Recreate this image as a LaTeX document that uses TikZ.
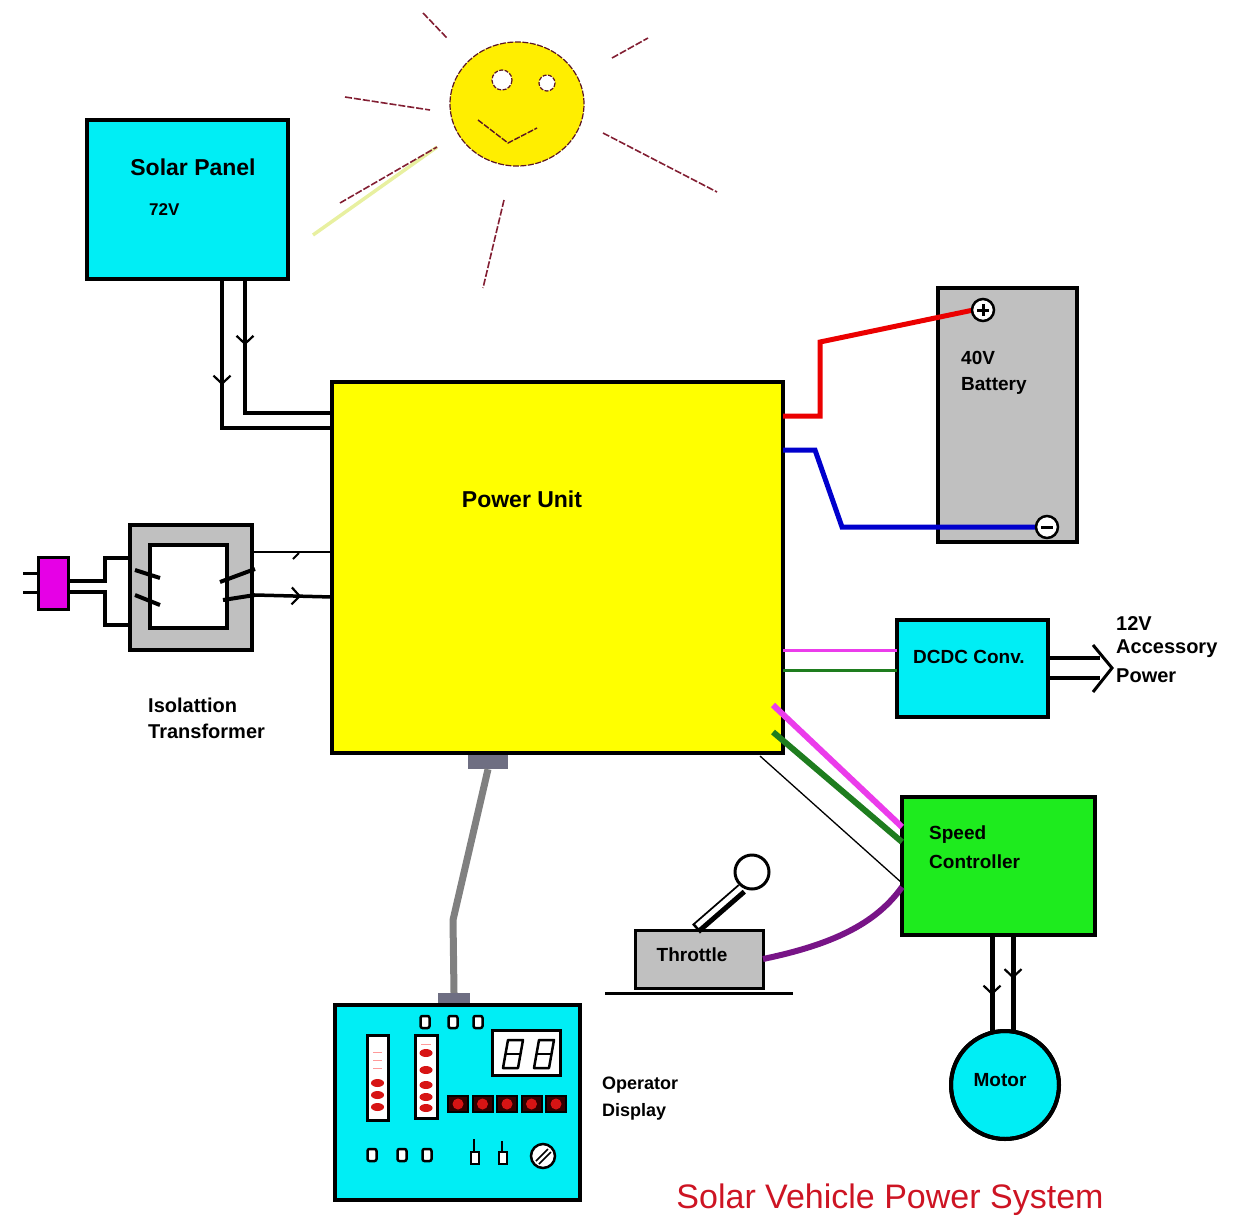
\documentclass[tikz,border=0pt]{standalone}
\usepackage{fontspec}
\setmainfont{Liberation Sans}
\usetikzlibrary{arrows.meta,decorations.markings,calc,shapes.geometric}
\definecolor{panelcyan}{RGB}{0,238,245}
\definecolor{unityellow}{RGB}{255,255,0}
\definecolor{sunyellow}{RGB}{255,238,0}
\definecolor{boxgray}{RGB}{192,192,192}
\definecolor{ctrlgreen}{RGB}{30,235,30}
\definecolor{plugmag}{RGB}{230,0,230}
\definecolor{wiremag}{RGB}{235,60,235}
\definecolor{wiregreen}{RGB}{30,125,30}
\definecolor{wirered}{RGB}{235,0,0}
\definecolor{wireblue}{RGB}{0,0,205}
\definecolor{wirepurple}{RGB}{120,20,135}
\definecolor{cablegray}{RGB}{128,128,128}
\definecolor{congray}{RGB}{110,110,130}
\definecolor{raycol}{RGB}{130,30,50}
\definecolor{paleray}{RGB}{232,240,160}
\definecolor{titlered}{RGB}{205,20,35}
\definecolor{ledred}{RGB}{215,20,20}
\begin{document}
\begin{tikzpicture}[x=1pt,y=-1pt,
  box/.style={draw=black, line width=4pt, inner sep=0pt, outer sep=0pt},
  wire/.style={line width=3.5pt, line join=miter},
  lbl/.style={font=\bfseries\fontsize{19}{21}\selectfont, inner sep=0pt},
  ray/.style={draw=raycol, line width=1.6pt, dash pattern=on 7pt off 2pt},
  midarrow/.style={postaction={decorate}, decoration={markings,
      mark=at position #1 with {\arrow[line width=2.2pt]{Straight Barb[length=8pt,width=17pt]}}}},
  button/.style={draw=black, line width=2.5pt, fill=white, rounded corners=2pt},
]
\useasboundingbox (0,0) rectangle (1239,1226);

% ---------- sun ----------
\draw[draw=paleray, line width=3.5pt] (313,235) -- (437,147);
\draw[ray] (423,13) -- (447,38);
\draw[ray] (612,58) -- (648,38);
\draw[ray] (345,97) -- (430,110);
\draw[ray] (340,203) -- (437,147);
\draw[ray] (603,133) -- (717,192);
\draw[ray] (504,200) -- (483,288);
\node[ellipse, draw=raycol!70!black, line width=1.2pt, dash pattern=on 6pt off 1.5pt,
      fill=sunyellow, minimum width=134pt, minimum height=124pt, inner sep=0pt] (sun) at (517,104) {};
\draw[draw=raycol!70!black, line width=1.2pt, dash pattern=on 4pt off 1.5pt, fill=white] (502,80) circle (10);
\draw[draw=raycol!70!black, line width=1.2pt, dash pattern=on 4pt off 1.5pt, fill=white] (547,83) circle (8);
\draw[draw=raycol!70!black, line width=1.4pt, dash pattern=on 6pt off 1.5pt] (478,120) -- (508,143) -- (537,128);

% ---------- blocks ----------
\node[box, fill=panelcyan, minimum width=201pt, minimum height=159pt] (solar) at (187.5,199.5) {};
\node[box, fill=unityellow, minimum width=451pt, minimum height=371pt] (pu) at (557.5,567.5) {};
\node[box, fill=boxgray, minimum width=139pt, minimum height=254pt] (batt) at (1007.5,415) {};
\node[box, fill=panelcyan, minimum width=151pt, minimum height=97pt] (dcdc) at (972.5,668.5) {};
\node[box, fill=ctrlgreen, minimum width=193pt, minimum height=138pt] (sc) at (998.5,866) {};
\node[box, line width=3pt, fill=boxgray, minimum width=128pt, minimum height=58pt] (thr) at (699,959) {};
\node[box, circle, fill=panelcyan, minimum size=108pt] (motor) at (1005,1085) {};
\node[box, fill=boxgray, minimum width=122pt, minimum height=125pt] (xfmr) at (191,587.5) {};
\node[box, fill=white, minimum width=77pt, minimum height=83pt] (core) at (188.5,586.5) {};
\node[box, line width=3pt, fill=plugmag, minimum width=30pt, minimum height=52pt] (plug) at (53,583) {};
\node[box, fill=panelcyan, minimum width=245pt, minimum height=195pt] (opd) at (457.5,1102.5) {};
\node[draw=none, fill=congray, minimum width=40pt, minimum height=14pt, inner sep=0pt] (pucon) at (488,762) {};
\node[draw=none, fill=congray, minimum width=32pt, minimum height=10pt, inner sep=0pt] (opcon) at (454,998) {};

% ---------- labels ----------
\node[lbl, font=\bfseries\fontsize{23}{25}\selectfont] at (193,167) {Solar Panel};
\node[lbl, anchor=west, font=\bfseries\fontsize{17}{19}\selectfont] at (149,210) {72V};
\node[lbl, font=\bfseries\fontsize{23}{25}\selectfont] at (522,499) {Power Unit};
\node[lbl, anchor=west] at (961,358) {40V};
\node[lbl, anchor=west] at (961,386) {Battery};
\node[lbl] at (969,657) {DCDC Conv.};
\node[lbl, anchor=west, font=\bfseries\fontsize{20}{22}\selectfont] at (1116,624) {12V};
\node[lbl, anchor=west, font=\bfseries\fontsize{20}{22}\selectfont] at (1116,649) {Accessory};
\node[lbl, anchor=west, font=\bfseries\fontsize{20}{22}\selectfont] at (1116,676) {Power};
\node[lbl, anchor=west] at (929,835) {Speed};
\node[lbl, anchor=west] at (929,862) {Controller};
\node[lbl] at (692,955) {Throttle};
\node[lbl] at (1000,1080) {Motor};
\node[lbl, anchor=west, font=\bfseries\fontsize{20}{22}\selectfont] at (148,705) {Isolattion};
\node[lbl, anchor=west, font=\bfseries\fontsize{20}{22}\selectfont] at (148,731) {Transformer};
\node[lbl, anchor=west, font=\bfseries\fontsize{18}{20}\selectfont] at (602,1085) {Operator};
\node[lbl, anchor=west, font=\bfseries\fontsize{18}{20}\selectfont] at (602,1112) {Display};
\node[inner sep=0pt, text=titlered, font=\fontsize{34}{37}\selectfont] (title) at (890,1200) {Solar Vehicle Power System};

% ---------- solar panel feed ----------
\draw[wire, midarrow=0.3] (solar.south -| 245,0) |- (pu.west |- 0,413);
\draw[wire, midarrow=0.41] (solar.south -| 222,0) |- (pu.west |- 0,428);

% ---------- mains plug and isolation transformer ----------
\draw[line width=3pt] (plug.west |- 0,573) -- ++(-15,0);
\draw[line width=3pt] (plug.west |- 0,592) -- ++(-15,0);
\draw[wire] (plug.east |- 0,581) -- (105,581) |- (xfmr.west |- 0,558);
\draw[wire] (plug.east |- 0,592) -- (105,592) |- (xfmr.west |- 0,625);
\draw[line width=4pt] (135,570) -- (160,578);
\draw[line width=4pt] (135,595) -- (160,605);
\draw[line width=4pt] (220,582) -- (255,569);
\draw[line width=4pt] (223,600) -- (255,595);
\draw[line width=2.5pt] (xfmr.east |- 0,552) -- (pu.west |- 0,552);
\draw[line width=2pt] (293,559) -- (299,553);
\draw[wire, midarrow=0.6] (255,595) -- (pu.west |- 0,597);

% ---------- battery connection ----------
\draw[line width=5pt, draw=wirered, line join=miter] (pu.east |- 0,416) -- (820,416) -- (820,342) -- (983,308);
\draw[line width=5pt, draw=wireblue, line join=miter] (pu.east |- 0,450) -- (815,450) -- (842,527) -- (1047,527);
\node[circle, draw=black, line width=2.5pt, fill=white, minimum size=22pt, inner sep=0pt] (bplus) at (983,310) {};
\draw[line width=3pt] ($(bplus)+(-6,0)$) -- ++(12,0) ($(bplus)+(0,-6)$) -- ++(0,12);
\node[circle, draw=black, line width=2.5pt, fill=white, minimum size=22pt, inner sep=0pt] (bminus) at (1047,527) {};
\draw[line width=3pt] ($(bminus)+(-6,0)$) -- ++(12,0);

% ---------- DC/DC converter ----------
\draw[line width=3pt, draw=wiremag] (pu.east |- 0,650) -- (dcdc.west |- 0,650);
\draw[line width=3pt, draw=wiregreen] (pu.east |- 0,670) -- (dcdc.west |- 0,670);
\coordinate (acctip) at (1112,668);
\draw[line width=3.5pt] (dcdc.east |- 0,658) -- (1100,658);
\draw[line width=3.5pt] (dcdc.east |- 0,678) -- (1100,678);
\draw[line width=3pt, line join=miter] (1093,645) -- (acctip) -- (1093,692);

% ---------- speed controller ----------
\draw[line width=6pt, draw=wiremag] (773,705) -- (sc.west |- 0,827);
\draw[line width=6pt, draw=wiregreen] (773,732) -- (sc.west |- 0,842);
\draw[line width=1.3pt] ($(pu.south east)+(-23,3)$) -- (sc.west |- 0,883);
\draw[line width=6pt, draw=wirepurple] (thr.east) .. controls (830,945) and (875,925) .. (sc.west |- 0,887);

% ---------- throttle lever and base ----------
\draw[line width=3pt] (605,993) -- (793,993);
\draw[line width=12pt, line cap=butt] (696,929) -- (742,889);
\draw[line width=5pt, draw=white, line cap=butt] (697,926) -- (743,886);
\node[circle, draw=black, line width=3pt, fill=white, minimum size=34pt, inner sep=0pt] (knobball) at (752,872) {};

% ---------- motor feed ----------
\draw[line width=5pt, midarrow=0.62] (sc.south -| 992,0) -- (992,1032);
\draw[line width=5pt, midarrow=0.45] (sc.south -| 1013,0) -- (1013,1032);
\draw[box, fill=none] (motor) circle (54);

% ---------- display cable ----------
\draw[line width=7pt, draw=cablegray, line join=round] (pucon.south) -- (453,920) -- (opcon.north);

% ---------- operator display details ----------
\foreach \x in {425,453,478} \draw[button] (\x-4.5,1016) rectangle (\x+4.5,1028);
\foreach \x in {372,402,427} \draw[button] (\x-4.5,1149) rectangle (\x+4.5,1161);
% bar gauges
\draw[line width=3pt, fill=white] (367,1035) rectangle (388,1120);
\foreach \y in {1083,1095,1107} \fill[ledred] (377.5,\y) ellipse (6.5 and 4);
\foreach \y in {1052,1060,1068} \draw[red!40, line width=1pt] (373,\y) -- (382,\y);
\draw[line width=3pt, fill=white] (415,1035) rectangle (437,1118);
\foreach \y in {1053,1070,1085,1097,1108} \fill[ledred] (426,\y) ellipse (6.5 and 4);
\draw[red!40, line width=1pt] (421,1044) -- (431,1044);
% two-digit readout
\draw[line width=3pt, fill=white] (492,1030) rectangle (560,1075);
\foreach \x in {503,534} {
  \draw[line width=2.5pt, line join=round] (\x+5,1040) -- (\x+20,1040) -- (\x+15,1068) -- (\x,1068) -- cycle;
  \draw[line width=2.5pt] (\x+2.5,1054) -- (\x+17.5,1054);
}
% indicator lamps
\foreach \i in {0,...,4} {
  \draw[line width=2pt, fill=black!80!red] ({448+\i*24.5},1096) rectangle ++(20,16);
  \fill[ledred] ({458+\i*24.5},1104) circle (5.5);
}
% toggle switches
\draw[line width=2.5pt, fill=white] (471,1152) rectangle (479,1164);
\draw[line width=2.5pt] (474,1152) -- (474,1139);
\draw[line width=2.5pt, fill=white] (499,1152) rectangle (507,1164);
\draw[line width=2.5pt] (502,1152) -- (502,1141);
% rotary knob
\draw[line width=2.5pt, fill=white] (543,1156) circle (12);
\draw[line width=1.5pt] (536,1161) -- (548,1149) (539,1164) -- (551,1152);

\end{tikzpicture}
\end{document}
